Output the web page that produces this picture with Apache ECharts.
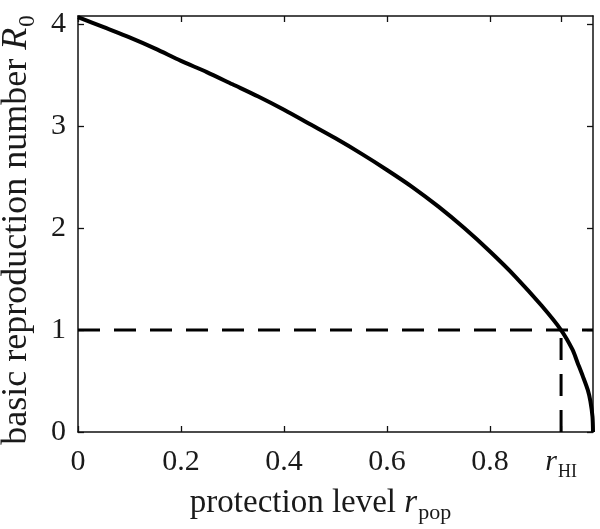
<!DOCTYPE html>
<html><head><meta charset="utf-8">
<script src="https://cdn.jsdelivr.net/npm/echarts@6/dist/echarts.min.js"></script>
<style>html,body{margin:0;padding:0;background:#fff}#c{width:600px;height:529px}</style>
</head><body><div id="c"></div>
<script>
// protection level r_pop (x) and basic reproduction number R0 (y)
const rPop = [0, 0.05, 0.10, 0.15, 0.20, 0.25, 0.30, 0.35, 0.40, 0.45, 0.50, 0.55, 0.60, 0.65, 0.70, 0.75, 0.80, 0.85, 0.90, 0.938, 0.96, 0.97, 0.98, 0.99, 0.995, 0.999, 1.0];
const R0   = [4.07, 3.97, 3.87, 3.76, 3.64, 3.53, 3.41, 3.29, 3.16, 3.02, 2.88, 2.73, 2.57, 2.40, 2.21, 2.00, 1.77, 1.52, 1.24, 1.00, 0.81, 0.68, 0.55, 0.41, 0.30, 0.15, 0.0];
const rHI = 0.938;
const xTickValues = [0, 0.2, 0.4, 0.6, 0.8, rHI];
const yTickValues = [0, 1, 2, 3, 4];
const thresholdX = [0, 1];
const thresholdY = [1, 1];
const rHIX = [rHI, rHI];
const rHIY = [0, 1];

const FONT = 'Liberation Serif';
const TXT = '#1a1a1a';
const curve = rPop.map((x, i) => [x, R0[i]]);
const hLine = thresholdX.map((x, i) => [x, thresholdY[i]]);
const vLine = rHIX.map((x, i) => [x, rHIY[i]]);

const chart = echarts.init(document.getElementById('c'), null, {renderer: 'canvas'});
const axisLine = {show: true, onZero: false, lineStyle: {color: '#111', width: 1.5}};
const tick = {show: true, inside: true, length: 6, lineStyle: {color: '#111', width: 1.3}};
const TF = 30, TS = 18, NF = 33, NS = 22, YF = 36, YS = 23;
function richSet(f, s, pad) {
  return {
    t: {fontFamily: FONT, fontSize: f, color: TXT, padding: [0, 0, pad, 0], verticalAlign: 'bottom'},
    i: {fontFamily: FONT, fontStyle: 'italic', fontSize: f, color: TXT, padding: [0, 1, pad, 0], verticalAlign: 'bottom'},
    s: {fontFamily: FONT, fontSize: s, color: TXT, verticalAlign: 'bottom'}
  };
}
chart.setOption({
  animation: false,
  backgroundColor: '#fff',
  grid: {left: 78, right: 7, top: 16, bottom: 97, containLabel: false, outerBoundsMode: 'none'},
  xAxis: [{
    type: 'value', min: 0, max: 1, position: 'bottom',
    axisLine: axisLine,
    axisTick: Object.assign({}, tick, {customValues: xTickValues}),
    splitLine: {show: false},
    axisLabel: {
      customValues: xTickValues, margin: 15, color: TXT, fontFamily: FONT, fontSize: TF,
      formatter: v => Math.abs(v - rHI) < 1e-9 ? '{i|r}{s|HI}' : String(v),
      rich: richSet(TF, TS, 4)
    },
    name: '{t|protection level }{i|r}{s|pop}', nameLocation: 'middle', nameGap: 55,
    nameTextStyle: {color: TXT, fontFamily: FONT, fontSize: NF, padding: [0, 30, 0, 0], rich: richSet(NF, NS, 4)}
  }, {
    type: 'value', min: 0, max: 1, position: 'top',
    axisLine: axisLine,
    axisTick: Object.assign({}, tick, {customValues: xTickValues}),
    axisLabel: {show: false}, splitLine: {show: false}
  }],
  yAxis: [{
    type: 'value', min: 0, max: 4.08, position: 'left',
    axisLine: axisLine,
    axisTick: Object.assign({}, tick, {customValues: yTickValues}),
    splitLine: {show: false},
    axisLabel: {customValues: yTickValues, margin: 12, color: TXT, fontFamily: FONT, fontSize: TF},
    name: '{t|basic reproduction number }{i|R}{s|0}', nameLocation: 'middle', nameGap: 39, nameRotate: 90,
    nameTextStyle: {color: TXT, fontFamily: FONT, fontSize: YF, padding: [0, 12, 0, 0], rich: richSet(YF, YS, 4)}
  }, {
    type: 'value', min: 0, max: 4.08, position: 'right',
    axisLine: axisLine,
    axisTick: Object.assign({}, tick, {customValues: yTickValues}),
    axisLabel: {show: false}, splitLine: {show: false}
  }],
  series: [{
    type: 'line', data: hLine, showSymbol: false, silent: true,
    lineStyle: {color: '#000', width: 3, type: [22, 14]}
  }, {
    type: 'line', data: vLine, showSymbol: false, silent: true,
    lineStyle: {color: '#000', width: 3, type: [22, 14]}
  }, {
    type: 'line', data: curve, showSymbol: false, silent: true,
    smooth: 0.3,
    lineStyle: {color: '#000', width: 4}
  }]
});
</script></body></html>
